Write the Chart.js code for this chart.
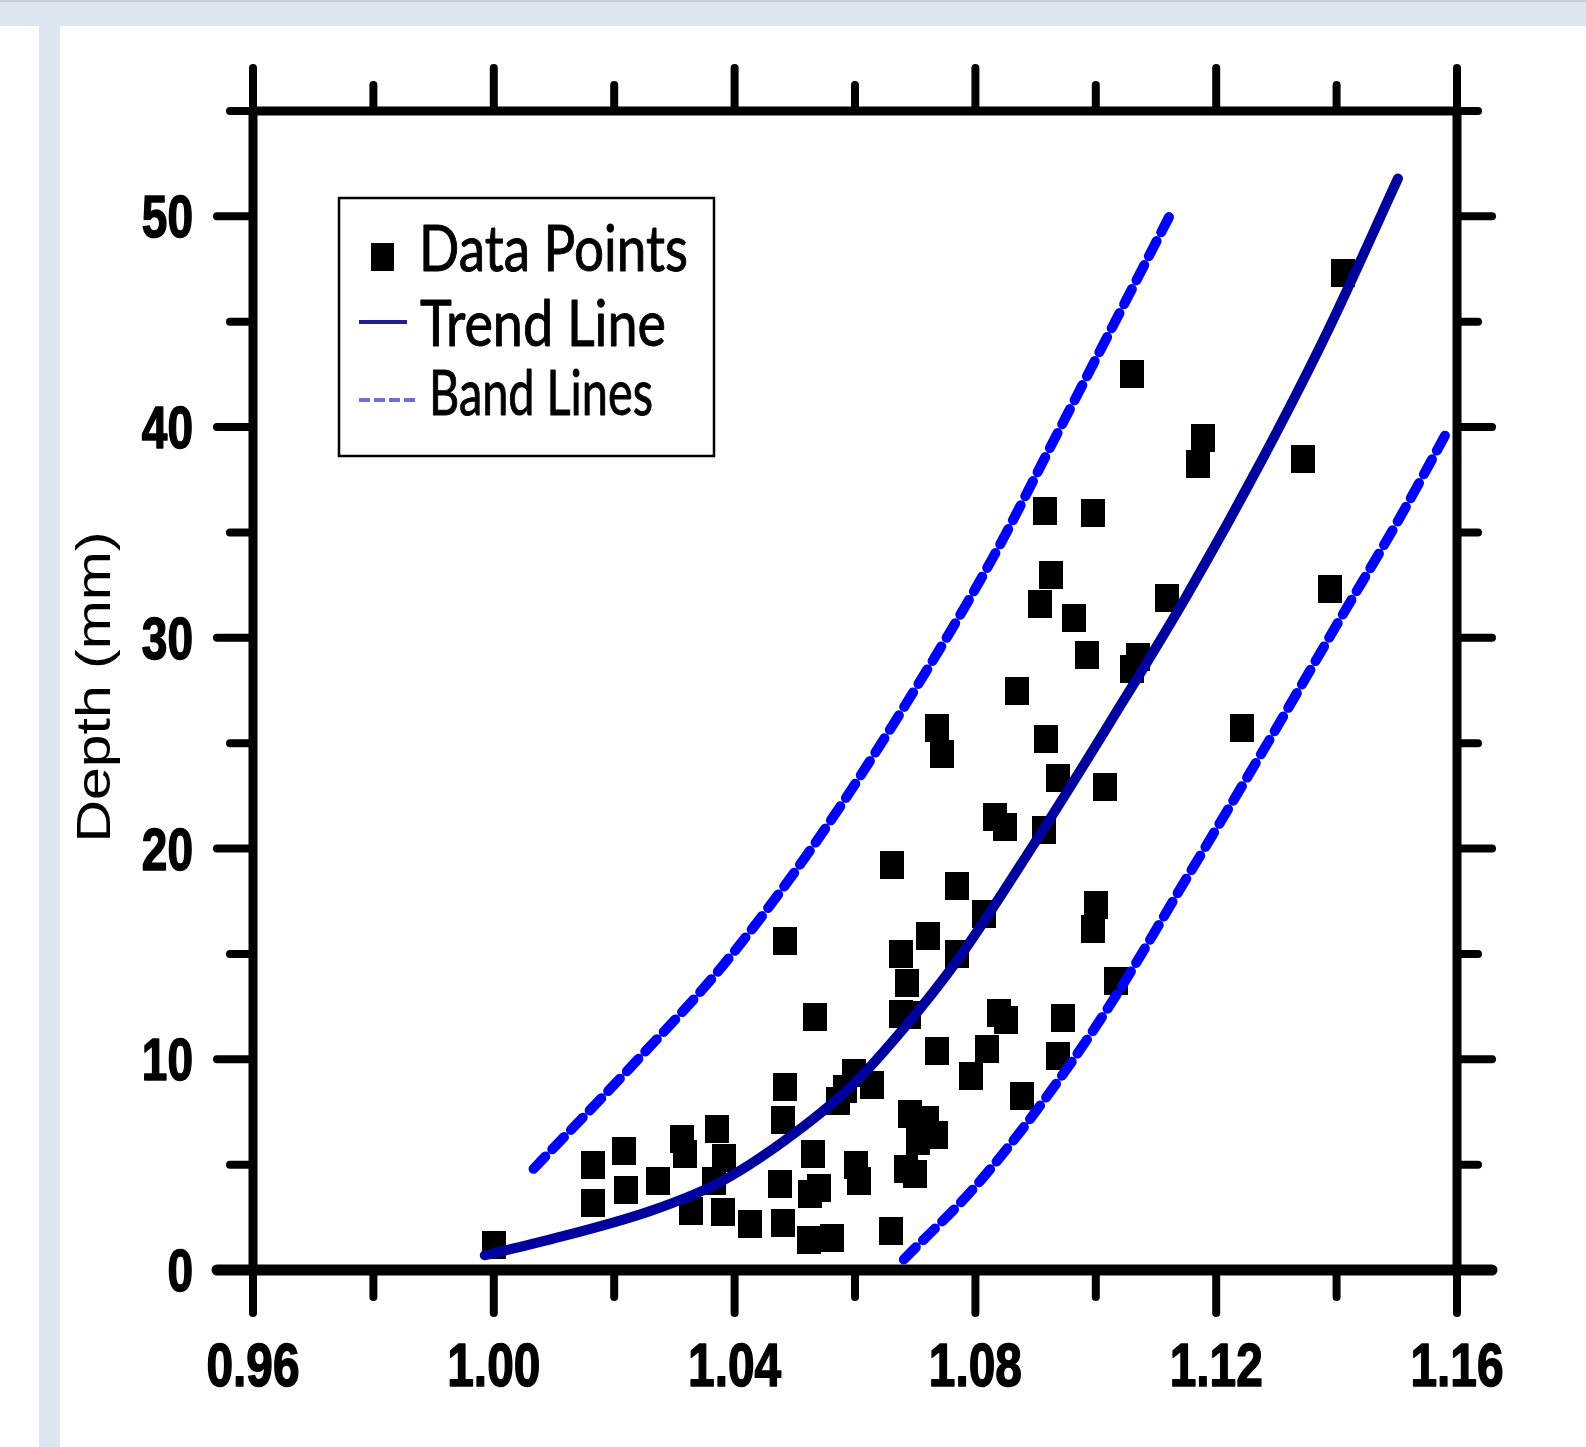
<!DOCTYPE html>
<html>
<head>
<meta charset="utf-8">
<title>Depth vs ratio</title>
<script src="https://cdn.jsdelivr.net/npm/chart.js@4.4.1/dist/chart.umd.min.js"></script>
<style>
  html, body { margin: 0; padding: 0; background: #fff; }
  body { width: 1586px; height: 1447px; position: relative; overflow: hidden; }
  .strip-top { position: absolute; left: 0; top: 0; width: 1586px; height: 26px; background: #dce6f1; border-top: 2px solid #c8d1dc; box-sizing: border-box; }
  .strip-left { position: absolute; left: 39px; top: 26px; width: 21px; height: 1421px; background: #dce6f1; }
  #chart { position: absolute; left: 0; top: 0; }
</style>
</head>
<body>
<div class="strip-top"></div>
<div class="strip-left"></div>
<canvas id="chart" width="1586" height="1447"></canvas>
<script>
/* ─── Data ─────────────────────────────────────────────── */
const pointX = [
  1.0000, 1.0165, 1.0165, 1.0217, 1.0220, 1.0273, 1.0313, 1.0317, 1.0327, 1.0371,
  1.0383, 1.0365, 1.0380, 1.0426, 1.0480, 1.0476, 1.0484, 1.0481, 1.0484, 1.0534,
  1.0530, 1.0526, 1.0540, 1.0523, 1.0561, 1.0571, 1.0584, 1.0598, 1.0629, 1.0602,
  1.0607, 1.0659, 1.0662, 1.0676, 1.0690, 1.0677, 1.0687, 1.0692, 1.0720, 1.0704,
  1.0735, 1.0684, 1.0700, 1.0737, 1.0722, 1.0737, 1.0744, 1.0770, 1.0770, 1.0792,
  1.0814, 1.0820, 1.0832, 1.0849, 1.0839, 1.0850, 1.0869, 1.0878, 1.0908, 1.0915,
  1.0925, 1.0918, 1.0914, 1.0938, 1.0938, 1.0945, 1.0963, 1.0985, 1.0995, 1.1001,
  1.0995, 1.1016, 1.1033, 1.1060, 1.1070, 1.1060, 1.1118, 1.1178, 1.1170, 1.1243,
  1.1344, 1.1389, 1.1410,
];
const pointY = [
  1.2, 5.0, 3.2, 5.65, 3.8, 4.2, 6.2, 5.5, 2.8, 6.7,
  5.3, 4.2, 2.75, 2.2, 2.25, 4.1, 8.7, 7.1, 15.6, 12.0,
  5.5, 3.6, 3.9, 1.4, 1.5, 8.0, 8.6, 9.35, 8.8, 5.0,
  4.2, 1.85, 19.2, 12.15, 12.1, 15.0, 13.6, 7.4, 7.1, 6.1,
  6.4, 4.8, 4.55, 10.4, 15.85, 25.7, 24.5, 18.2, 15.0, 9.2,
  16.9, 10.5, 21.5, 21.0, 12.2, 11.85, 27.5, 8.25, 31.6, 36.0,
  33.0, 25.2, 20.9, 23.35, 10.15, 11.95, 30.95, 29.2, 35.9, 17.3,
  16.2, 22.9, 13.7, 42.5, 29.1, 28.5, 31.9, 39.5, 38.25, 25.7,
  38.5, 32.3, 47.3,
];

const trendX = [0.9985, 1.0094, 1.0260, 1.0371, 1.0481, 1.0593, 1.0679, 1.0770, 1.0897, 1.1024, 1.1151, 1.1279, 1.1386, 1.1502];
const trendY = [0.7, 1.45, 2.8, 4.1, 6.1, 8.7, 11.4, 14.7, 20.2, 26.0, 32.0, 38.6, 44.6, 51.8];

const bandUpperX = [1.0066, 1.0233, 1.0382, 1.0530, 1.0679, 1.0827, 1.0938, 1.1050, 1.1124];
const bandUpperY = [4.8, 9.8, 14.5, 20.1, 26.6, 33.7, 39.8, 46.0, 50.1];

const bandLowerX = [1.0681, 1.0801, 1.0910, 1.1024, 1.1151, 1.1279, 1.1406, 1.1501, 1.1584];
const bandLowerY = [0.5, 4.0, 7.9, 12.6, 18.6, 24.7, 30.9, 35.5, 39.8];

const xTickLabels = ['0.96', '1.00', '1.04', '1.08', '1.12', '1.16'];
const yTickLabels = ['0', '10', '20', '30', '40', '50'];

const legendLabels = ['Data Points', 'Trend Line', 'Band Lines'];
const yAxisTitle = 'Depth (mm)';

(function () {
  'use strict';

  const COLORS = {
    ink:       '#000000',
    trend:     '#00009e',
    band:      '#0000ff',
    trendKey:  '#1e1e8c',
    bandKey:   '#6b70e0',
  };

  // legend text widths in the figure, px
  const LEGEND_WIDTHS = [269, 246, 224];

  function pairs(xs, ys) {
    return xs.map((x, i) => ({ x, y: ys[i] }));
  }

  function makeSquare(w, h) {
    const c = document.createElement('canvas');
    c.width = w;
    c.height = h;
    const g = c.getContext('2d');
    g.fillStyle = COLORS.ink;
    g.fillRect(0, 0, w, h);
    return c;
  }

  function seg(ctx, x1, y1, x2, y2) {
    ctx.beginPath();
    ctx.moveTo(x1, y1);
    ctx.lineTo(x2, y2);
    ctx.stroke();
  }

  /* text drawn with the figure's tall, narrow stretch */
  function stretchText(ctx, text, x, y, sx, sy, align, heavy) {
    ctx.save();
    ctx.translate(x, y);
    ctx.scale(sx, sy);
    ctx.textAlign = align;
    ctx.textBaseline = 'alphabetic';
    ctx.fillText(text, 0, 0);
    if (heavy) {
      ctx.lineWidth = heavy;
      ctx.lineJoin = 'round';
      ctx.strokeText(text, 0, 0);
    }
    ctx.restore();
  }

  /* ── Boxed axes, ticks, labels, legend ── */
  const framePlugin = {
    id: 'frame',
    afterDatasetsDraw(chart) {
      const ctx = chart.ctx;
      const xs = chart.scales.x;
      const ys = chart.scales.y;
      const L = chart.chartArea.left, R = chart.chartArea.right;
      const T = chart.chartArea.top, B = chart.chartArea.bottom;

      ctx.save();
      ctx.strokeStyle = COLORS.ink;
      ctx.fillStyle = COLORS.ink;

      // frame lines
      ctx.lineCap = 'butt';
      ctx.lineWidth = 9;
      seg(ctx, L, T, L, B);
      seg(ctx, R, T, R, B);
      seg(ctx, L, T, R, T);
      ctx.lineWidth = 11;
      seg(ctx, L, B, R, B);

      // y ticks (every 5, long at labelled values)
      ctx.lineCap = 'round';
      yTickLabels.forEach((lab, i) => {
        const v = parseFloat(lab);
        const y = ys.getPixelForValue(v);
        ctx.lineWidth = i === 0 ? 11 : 8;
        seg(ctx, L - 36, y, L, y);
        seg(ctx, R, y, R + 35, y);
        const ym = ys.getPixelForValue(v + 5);
        ctx.lineWidth = 8;
        seg(ctx, L - 23, ym, L, ym);
        seg(ctx, R, ym, R + 21, ym);
      });

      // x ticks (every 0.02, long at labelled values)
      xTickLabels.forEach((lab, i) => {
        const v = parseFloat(lab);
        const x = xs.getPixelForValue(v);
        ctx.lineWidth = 8;
        seg(ctx, x, B, x, B + 43);
        seg(ctx, x, T, x, T - 43);
        if (i < xTickLabels.length - 1) {
          const xm = xs.getPixelForValue(v + 0.02);
          seg(ctx, xm, B, xm, B + 27);
          seg(ctx, xm, T, xm, T - 26);
        }
      });

      // tick labels
      ctx.font = 'bold 46px "Liberation Sans", Arial, sans-serif';
      yTickLabels.forEach((lab) => {
        const y = ys.getPixelForValue(parseFloat(lab));
        stretchText(ctx, lab, L - 60, y + 21, 1.0, 1.3, 'right', 1.2);
      });
      xTickLabels.forEach((lab) => {
        const x = xs.getPixelForValue(parseFloat(lab));
        stretchText(ctx, lab, x, B + 116, 1.04, 1.33, 'center', 1.2);
      });

      // y axis title
      ctx.font = '46px "Liberation Sans", Arial, sans-serif';
      const tw = ctx.measureText(yAxisTitle).width;
      ctx.save();
      ctx.translate(110, 687);
      ctx.rotate(-Math.PI / 2);
      ctx.scale(311 / tw, 1.05);
      ctx.textAlign = 'center';
      ctx.textBaseline = 'alphabetic';
      ctx.fillText(yAxisTitle, 0, 0);
      ctx.restore();

      // legend box
      ctx.fillStyle = '#ffffff';
      ctx.fillRect(339, 198, 375, 258);
      ctx.lineWidth = 2.5;
      ctx.lineCap = 'butt';
      ctx.strokeRect(339, 198, 375, 258);

      ctx.fillStyle = COLORS.ink;
      ctx.fillRect(371, 243, 23, 28);

      ctx.strokeStyle = COLORS.trendKey;
      ctx.lineWidth = 4;
      seg(ctx, 359, 322, 407, 322);

      ctx.strokeStyle = COLORS.bandKey;
      ctx.setLineDash([11, 4]);
      seg(ctx, 359, 400, 415, 400);
      ctx.setLineDash([]);

      ctx.fillStyle = COLORS.ink;
      ctx.strokeStyle = COLORS.ink;
      ctx.font = '52px Lato, "Open Sans", sans-serif';
      const rows = [[419, 271, 1.24], [420, 346, 1.24], [429, 415, 1.2]];
      legendLabels.forEach((lab, i) => {
        const sx = LEGEND_WIDTHS[i] / ctx.measureText(lab).width;
        stretchText(ctx, lab, rows[i][0], rows[i][1], sx, rows[i][2], 'left', 0.8);
      });

      ctx.restore();
    },
  };

  function init() {
    const canvas = document.getElementById('chart');
    if (!canvas || typeof Chart === 'undefined') return;

    const bandStyle = {
      showLine: true,
      borderColor: COLORS.band,
      borderWidth: 10,
      borderDash: [17, 10],
      borderCapStyle: 'round',
      cubicInterpolationMode: 'monotone',
      pointRadius: 0,
      order: 2,
    };

    new Chart(canvas, {
      type: 'scatter',
      data: {
        datasets: [
          {
            label: legendLabels[1],
            data: pairs(trendX, trendY),
            showLine: true,
            borderColor: COLORS.trend,
            borderWidth: 10,
            borderCapStyle: 'round',
            cubicInterpolationMode: 'monotone',
            pointRadius: 0,
            order: 1,
          },
          Object.assign({ label: legendLabels[2], data: pairs(bandUpperX, bandUpperY) }, bandStyle),
          Object.assign({ label: legendLabels[2] + ' (lower)', data: pairs(bandLowerX, bandLowerY) }, bandStyle),
          {
            label: legendLabels[0],
            data: pairs(pointX, pointY),
            pointStyle: makeSquare(24, 28),
            pointRadius: 12,
            backgroundColor: COLORS.ink,
            borderColor: COLORS.ink,
            order: 3,
          },
        ],
      },
      options: {
        responsive: false,
        animation: false,
        layout: { padding: { left: 253, right: 129, top: 111, bottom: 177 } },
        scales: {
          x: { type: 'linear', min: 0.96, max: 1.16, display: false },
          y: { type: 'linear', min: 0, max: 55, display: false },
        },
        plugins: {
          legend: { display: false },
          tooltip: { enabled: false },
        },
      },
      plugins: [framePlugin],
    });
  }

  if (document.readyState === 'loading') {
    document.addEventListener('DOMContentLoaded', init);
  } else {
    init();
  }
})();
</script>
</body>
</html>
